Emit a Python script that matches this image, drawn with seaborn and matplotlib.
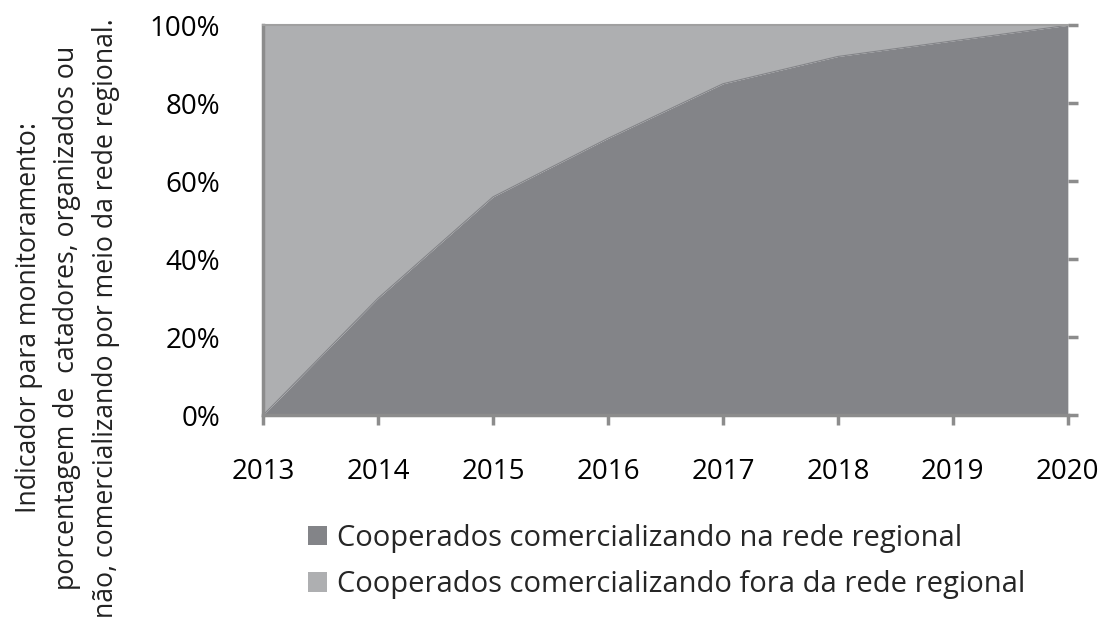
import matplotlib
matplotlib.use("Agg")
import matplotlib.pyplot as plt
import seaborn as sns
import numpy as np
from matplotlib.patches import Patch
from matplotlib.ticker import PercentFormatter

years = [2013, 2014, 2015, 2016, 2017, 2018, 2019, 2020]
na_rede = [0, 30, 56, 71, 85, 92, 96, 100]
fora_rede = [100 - v for v in na_rede]
series_names = ["Cooperados comercializando na rede regional",
                "Cooperados comercializando fora da rede regional"]
y_ticks = [0, 20, 40, 60, 80, 100]
ylabel = ("Indicador para monitoramento:\n"
          "porcentagem de  catadores, organizados ou\n"
          "não, comercializando por meio da rede regional.")

sns.set_theme(style="white")
plt.rcParams['font.family'] = ['Open Sans', 'DejaVu Sans']

colors = ["#838488", "#aeafb1"]
spine_c = "#8c8c8c"

fig = plt.figure(figsize=(11.02, 6.32), dpi=100)
ax = fig.add_axes([0.2387, 0.343, 0.969 - 0.2387, 0.617])

ax.stackplot(years, na_rede, fora_rede, colors=colors, linewidth=0)
sns.lineplot(x=years, y=na_rede, ax=ax, color=colors[0], linewidth=0.8)

ax.set_xlim(years[0], years[-1])
ax.set_ylim(0, 100)
ax.set_xticks(years)
ax.set_xticklabels([str(y) for y in years])
ax.set_yticks(y_ticks)
ax.yaxis.set_major_formatter(PercentFormatter(decimals=0))

for side in ["left", "bottom"]:
    ax.spines[side].set_color(spine_c)
    ax.spines[side].set_linewidth(2.5)
ax.spines["top"].set_color("#a0a0a0")
ax.spines["top"].set_linewidth(1.5)
ax.spines["right"].set_visible(False)

ax.tick_params(axis="both", which="major", direction="out", length=7,
               width=2.5, color=spine_c, labelsize=20, labelcolor="black")
ax.tick_params(axis="y", pad=24, right=True, labelright=False)
ax.tick_params(axis="x", pad=24, bottom=True)

ax.set_ylabel("")
ax.set_xlabel("")
fig.text(0.061, 0.497, ylabel, rotation=90, ha="center", va="center",
         multialignment="center", fontsize=19.2, linespacing=1.5, color="#222222")

handles = [Patch(facecolor=colors[0], edgecolor="none"),
           Patch(facecolor=colors[1], edgecolor="none")]
fig.legend(handles, series_names, loc="upper left", bbox_to_anchor=(0.2795, 0.171),
           frameon=False, fontsize=21, handlelength=0.65, handleheight=0.65,
           handletextpad=0.34, labelspacing=0.6, borderaxespad=0, borderpad=0)

fig.savefig("out.png", dpi=100)
